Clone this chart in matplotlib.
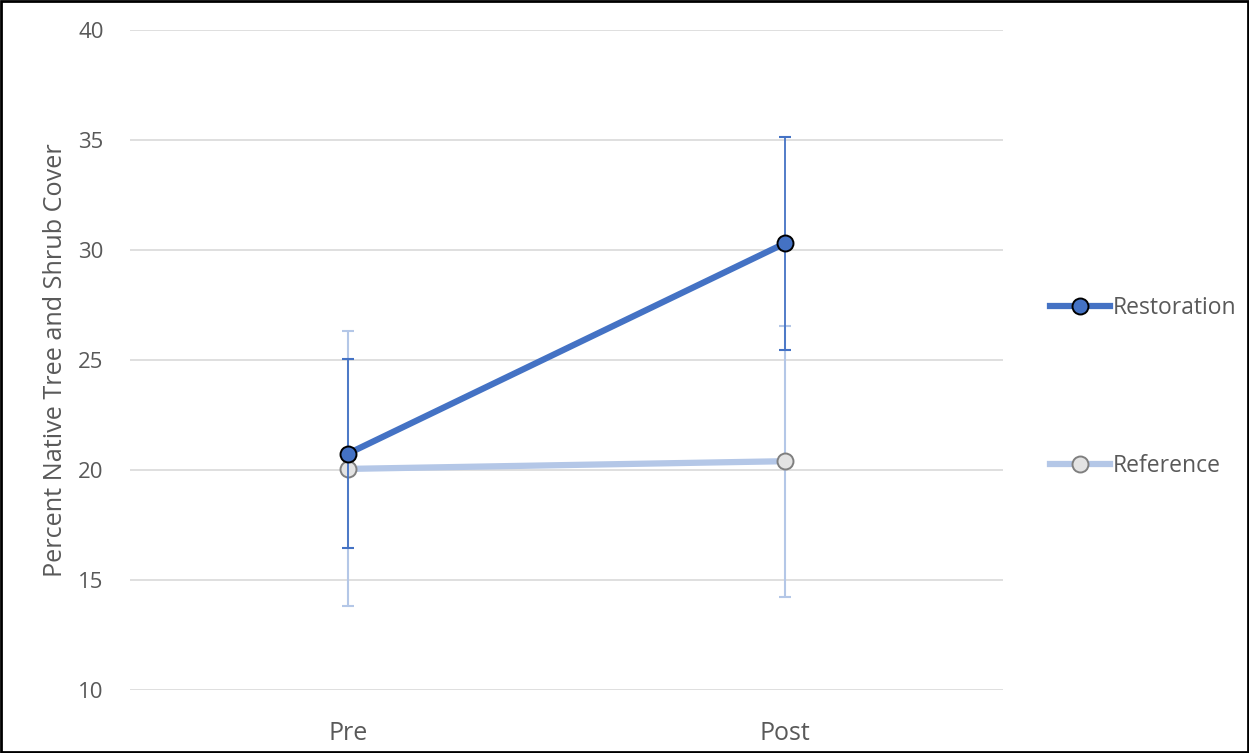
import numpy as np
import matplotlib
matplotlib.use('Agg')
import matplotlib.pyplot as plt
from matplotlib.lines import Line2D
from matplotlib.patches import Rectangle

plt.rcParams['font.family'] = ['Open Sans', 'DejaVu Sans']

# Survey periods and mean cover (with error bar half-widths)
periods = ['Pre', 'Post']
restoration = [20.75, 30.3]
restoration_err = [4.3, 4.85]
reference = [20.05, 20.4]
reference_err = [6.25, 6.15]

DARK_BLUE = '#4472C4'
LIGHT_BLUE = '#B4C7E7'
TEXT_GREY = '#595959'

fig = plt.figure(figsize=(12.49, 7.53), dpi=100)
ax = fig.add_axes([130 / 1249, 1 - 690 / 753, 873 / 1249, 660 / 753])

x = np.arange(len(periods))

# Reference series
ax.errorbar(x, reference, yerr=reference_err, fmt='none', ecolor=LIGHT_BLUE,
            elinewidth=1.5, capsize=4.5, capthick=1.5, zorder=2)
ax.plot(x, reference, color=LIGHT_BLUE, lw=4.5, marker='o', markersize=11.5,
        markerfacecolor='#E3E3E3', markeredgecolor='#7F7F7F', markeredgewidth=1.4,
        zorder=3)

# Restoration series
ax.errorbar(x, restoration, yerr=restoration_err, fmt='none', ecolor=DARK_BLUE,
            elinewidth=1.3, capsize=4.5, capthick=1.5, zorder=4)
ax.plot(x, restoration, color=DARK_BLUE, lw=4.5, marker='o', markersize=11.5,
        markerfacecolor=DARK_BLUE, markeredgecolor='black', markeredgewidth=1.4,
        zorder=5)

ax.set_xlim(-0.5, 1.5)
ax.set_ylim(10, 40)
ax.set_yticks(np.arange(10, 41, 5))
ax.set_xticks(x)
ax.set_xticklabels(periods, fontsize=18, color=TEXT_GREY)
ax.tick_params(axis='y', labelsize=16, colors=TEXT_GREY, length=0, pad=19)
ax.tick_params(axis='x', length=0, pad=22)
ax.grid(axis='y', color='#D9D9D9', lw=1.2)
ax.set_axisbelow(True)
for side in ax.spines.values():
    side.set_visible(False)

ax.set_ylabel('Percent Native Tree and Shrub Cover', fontsize=18.2,
              color=TEXT_GREY, labelpad=7)

handles = [
    Line2D([], [], color=DARK_BLUE, lw=4.5, marker='o', markersize=11.5,
           markerfacecolor=DARK_BLUE, markeredgecolor='black', markeredgewidth=1.4),
    Line2D([], [], color=LIGHT_BLUE, lw=4.5, marker='o', markersize=11.5,
           markerfacecolor='#E3E3E3', markeredgecolor='#7F7F7F', markeredgewidth=1.4),
]
fig.legend(handles, ['Restoration', 'Reference'], loc='center left',
           bbox_to_anchor=(1050 / 1249, 1 - 387 / 753), frameon=False,
           borderaxespad=0, borderpad=0,
           fontsize=16.5, labelcolor=TEXT_GREY, handlelength=2.6,
           handletextpad=0.15, labelspacing=5.88)

# Outer frame around the whole figure
fig.patches.append(Rectangle((0.001, 0.001), 0.998, 0.998, transform=fig.transFigure,
                             fill=False, edgecolor='black', lw=2))

fig.savefig('out.png', dpi=100)
